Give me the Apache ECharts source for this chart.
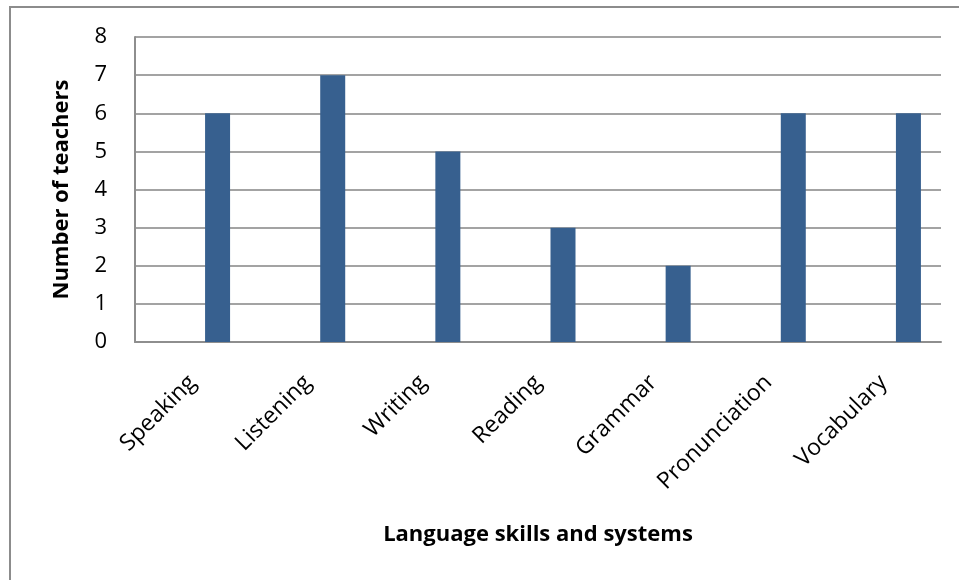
<!DOCTYPE html>
<html>
<head>
<meta charset="utf-8">
<title>Language skills and systems</title>
<script src="https://cdn.jsdelivr.net/npm/echarts@6/dist/echarts.min.js"></script>
<style>
  html, body { margin: 0; padding: 0; background: #fff; }
  #chart { width: 959px; height: 580px; }
</style>
</head>
<body>
<div id="chart"></div>
<script>
// Skills and systems taught, with the number of teachers for each
const categories = ['Speaking', 'Listening', 'Writing', 'Reading', 'Grammar', 'Pronunciation', 'Vocabulary'];
const teachers = [6, 7, 5, 3, 2, 6, 6];
const yTicks = { min: 0, max: 8, interval: 1 };

const FONT = '"Open Sans", "Noto Sans", sans-serif';
const GRID_GREY = '#a3a3a3';
const AXIS_GREY = '#8e8e8e';

const chart = echarts.init(document.getElementById('chart'), null, { renderer: 'canvas' });

chart.setOption({
  animation: false,
  backgroundColor: '#ffffff',
  graphic: [{
    type: 'rect',
    shape: { x: 10, y: 7, width: 1000, height: 620 },
    style: { fill: 'none', stroke: '#8c8c8c', lineWidth: 2 },
    silent: true,
    z: -10
  }],
  grid: { left: 135, top: 37, right: 18, bottom: 238, containLabel: false },
  xAxis: {
    type: 'category',
    data: categories,
    name: 'Language skills and systems',
    nameLocation: 'middle',
    nameGap: 182,
    nameTextStyle: { fontFamily: FONT, fontSize: 22, fontWeight: 'bold', color: '#000' },
    axisLine: { show: true, lineStyle: { color: AXIS_GREY, width: 2 } },
    axisTick: { show: false },
    axisLabel: {
      rotate: 45,
      interval: 0,
      margin: 37,
      fontFamily: FONT,
      fontSize: 23,
      color: '#000'
    },
    splitLine: { show: false }
  },
  yAxis: {
    type: 'value',
    min: yTicks.min,
    max: yTicks.max,
    interval: yTicks.interval,
    name: 'Number of teachers',
    nameLocation: 'middle',
    nameGap: 62,
    nameRotate: 90,
    nameTextStyle: { fontFamily: FONT, fontSize: 22, fontWeight: 'bold', color: '#000' },
    axisLine: { show: true, lineStyle: { color: AXIS_GREY, width: 2 } },
    axisTick: { show: false },
    axisLabel: { margin: 28, fontFamily: FONT, fontSize: 22, color: '#000' },
    splitLine: { show: true, lineStyle: { color: GRID_GREY, width: 2 } }
  },
  series: [
    // two empty slots keep the column in the right-hand third of each category
    { type: 'bar', name: 'slot-a', data: [], barWidth: 25, barGap: '0%' },
    { type: 'bar', name: 'slot-b', data: [], barWidth: 25, barGap: '0%' },
    {
      type: 'bar',
      name: 'Number of teachers',
      data: teachers,
      barWidth: 25,
      barGap: '0%',
      itemStyle: { color: '#37608f' },
      z: 3
    }
  ]
});
</script>
</body>
</html>
